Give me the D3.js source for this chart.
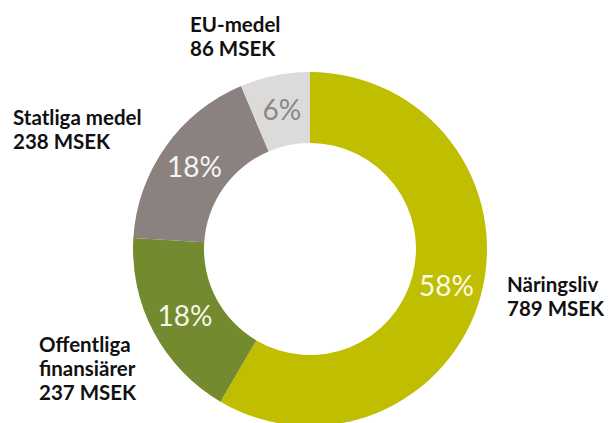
<!DOCTYPE html>
<html>
<head>
<meta charset="utf-8">
<script src="https://cdn.jsdelivr.net/npm/d3@7"></script>
<style>
  html, body { margin: 0; padding: 0; background: #fff; }
  svg { display: block; }
</style>
</head>
<body>
<svg id="chart" width="615" height="423"></svg>
<script>
const categories = ["Näringsliv", "Offentliga finansiärer", "Statliga medel", "EU-medel"];
const values = [789, 237, 238, 86];
const percentLabels = ["58%", "18%", "18%", "6%"];
const nameLines = [["Näringsliv", "789 MSEK"], ["Offentliga", "finansiärer", "237 MSEK"], ["Statliga medel", "238 MSEK"], ["EU-medel", "86 MSEK"]];
const colors = ["#bfbe00", "#738a2e", "#8b8280", "#dddbd9"];
const pctColors = ["#fbfbe8", "#f4f6ea", "#f6f4f3", "#888888"];

const svg = d3.select("#chart");
const cx = 310, cy = 249, rOuter = 177, rInner = 106;

const data = categories.map((c, i) => ({ name: c, value: values[i], i }));
const pie = d3.pie().value(d => d.value).sort(null);
const arcs = pie(data);
const arc = d3.arc().innerRadius(rInner).outerRadius(rOuter);

const g = svg.append("g").attr("transform", `translate(${cx},${cy})`);
g.selectAll("path").data(arcs).join("path")
  .attr("d", arc)
  .attr("fill", d => colors[d.data.i]);

g.selectAll("text.pct").data(arcs).join("text")
  .attr("class", "pct")
  .attr("transform", d => { const [x, y] = arc.centroid(d); return `translate(${x},${y})`; })
  .attr("text-anchor", "middle")
  .attr("dy", "0.36em")
  .attr("font-family", "Lato, 'Open Sans', sans-serif")
  .attr("font-size", 28)
  .attr("fill", d => pctColors[d.data.i])
  .text(d => percentLabels[d.data.i]);

// external labels: anchor positions (left x, first baseline)
const labelPos = [[507, 292], [39, 352], [13, 125], [190, 32]];
const lineH = 24;
nameLines.forEach((lines, i) => {
  const t = svg.append("text")
    .attr("font-family", "Lato, 'Open Sans', sans-serif")
    .attr("font-weight", "bold")
    .attr("font-size", 20.5)
    .attr("fill", "#111");
  lines.forEach((ln, j) => {
    t.append("tspan").attr("x", labelPos[i][0]).attr("y", labelPos[i][1] + j * lineH).text(ln);
  });
});
</script>
</body>
</html>
